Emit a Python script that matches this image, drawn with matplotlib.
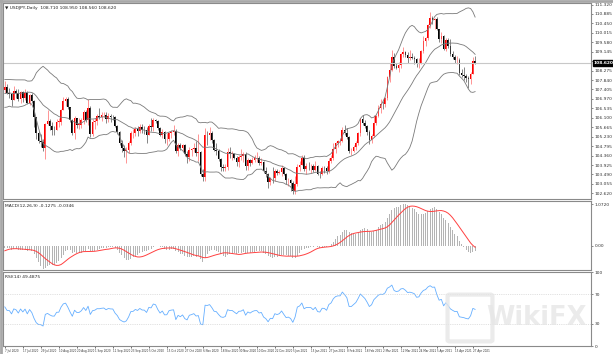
import numpy as np
import pandas as pd
import matplotlib
matplotlib.use("Agg")
import matplotlib.pyplot as plt
import matplotlib.transforms as mtransforms
from matplotlib.patches import FancyBboxPatch

# warm-up closes (22 May - 6 Jul 2020), only used to seed the indicators
warmup_close = [107.63, 107.72, 107.53, 107.72, 107.65, 107.83, 107.61, 108.67, 108.89, 109.19,
                109.61, 108.44, 107.76, 107.08, 106.85, 107.37, 107.33, 107.31, 106.99, 106.97,
                106.87, 106.90, 106.50, 107.05, 107.16, 107.22, 107.56, 107.93, 107.47, 107.50,
                107.51, 107.37]

# USDJPY daily, 7 Jul 2020 - 28 Apr 2021
close = [107.53, 107.23, 107.22, 106.92, 107.32, 107.24, 106.95, 107.28, 107.01, 107.25,
         106.79, 107.17, 106.86, 106.12, 105.38, 105.03, 104.99, 104.72, 105.83,
         105.94, 105.72, 105.56, 105.54, 105.92, 105.93, 106.48, 106.88, 106.98, 106.58,
         106.01, 105.40, 106.11, 105.79, 105.79, 105.98, 106.37, 106.01, 106.56, 105.37, 105.89,
         105.96, 106.17, 106.16, 106.22, 106.25, 106.06, 106.19, 106.15, 106.14, 105.73,
         105.45, 104.93, 104.72, 104.56, 104.64, 104.93, 105.39, 105.41, 105.58, 105.49,
         105.66, 105.53,
         105.52, 105.33, 105.72, 105.68, 106.01, 105.96, 105.61, 105.31, 105.46, 105.11,
         105.12, 105.41, 105.45, 105.47, 104.55, 104.86, 104.71, 104.84, 104.43, 104.28,
         104.61, 104.66,
         104.73, 104.50, 104.53, 103.49, 103.38, 105.33, 105.30, 105.42, 105.08, 104.62,
         104.57, 104.19, 103.84, 103.77, 103.85, 104.54, 104.44, 104.45, 104.27, 104.08, 104.30,
         104.32, 104.44, 103.88, 104.16, 104.04, 104.17, 104.24, 104.25, 104.04, 104.08,
         103.66, 103.49, 103.13, 103.35, 103.31, 103.64, 103.56, 103.62, 103.80, 103.52,
         103.22, 103.25,
         103.12, 102.71, 103.03, 103.83, 103.94, 104.25, 103.74, 103.87, 103.86, 103.86,
         103.69, 103.88, 103.53, 103.49, 103.78, 103.77, 103.63, 104.09, 104.24, 104.68,
         104.94, 105.03, 105.03, 105.54, 105.39, 105.21, 104.57, 104.57, 104.75, 104.95,
         105.39, 106.04, 105.88, 105.72, 105.44, 105.07, 105.26, 105.87, 106.19, 106.57,
         106.74, 106.72, 107.00, 107.98, 108.32, 108.92, 108.49, 108.40, 108.52, 109.04,
         109.13, 109.01, 108.84, 108.91, 108.87, 108.81, 108.58, 108.63, 109.17, 109.63,
         109.80, 110.37, 110.72,
         110.62, 110.67, 110.18, 109.75, 109.86, 109.29, 109.67, 109.40, 109.06, 108.90,
         108.76, 108.78, 108.15, 108.09, 108.04, 107.94, 107.89, 108.11, 108.71, 108.62]

high = [107.79, 107.68, 107.47, 107.26, 107.55, 107.45, 107.42, 107.34, 107.33, 107.42,
        107.33, 107.21, 107.26, 106.92, 106.15, 105.50, 105.34, 105.13, 105.88,
        106.47, 106.05, 105.90, 105.73, 106.05, 106.10, 106.52, 107.04, 107.04, 107.05,
        106.62, 106.04, 106.20, 106.10, 106.08, 106.09, 106.48, 106.47, 106.95, 106.65, 106.06,
        106.08, 106.27, 106.55, 106.37, 106.35, 106.36, 106.30, 106.27, 106.22, 106.18,
        105.78, 105.48, 105.07, 104.86, 104.77, 105.02, 105.48, 105.58, 105.69, 105.72,
        105.80, 105.80,
        105.71, 105.69, 105.80, 106.11, 106.11, 106.06, 106.00, 105.70, 105.60, 105.49,
        105.39, 105.44, 105.53, 105.75, 105.57, 104.93, 104.92, 104.91, 104.90, 104.57,
        104.74, 104.71,
        104.94, 105.03, 105.35, 104.57, 103.76, 105.65, 105.48, 105.67, 105.47, 105.13,
        104.92, 104.65, 104.26, 103.96, 103.95, 104.72, 104.76, 104.59, 104.47, 104.33, 104.40,
        104.66, 104.52, 104.52, 104.23, 104.18, 104.30, 104.37, 104.51, 104.36, 104.23,
        104.11, 103.83, 103.58, 103.38, 103.83, 103.73, 103.74, 103.70, 103.94, 103.85,
        103.56, 103.34,
        103.29, 103.18, 103.44, 103.95, 104.09, 104.38, 104.40, 104.00, 104.07, 103.99,
        103.95, 104.10, 103.94, 103.66, 103.90, 103.88, 103.87, 104.23, 104.40, 104.94,
        105.00, 105.08, 105.15, 105.67, 105.77, 105.65, 105.25, 104.70, 104.86, 105.04,
        105.45, 106.10, 106.22, 106.02, 105.79, 105.52, 105.34, 106.22, 106.23, 106.70,
        106.95, 106.89, 107.06, 108.01, 108.64, 109.23, 109.08, 108.62, 108.68, 109.10,
        109.36, 109.20, 109.14, 109.21, 109.10, 108.96, 108.86, 108.84, 109.24, 109.86,
        109.82, 110.42, 110.97,
        110.77, 110.68, 110.73, 110.19, 110.07, 109.93, 109.78, 109.77, 109.71, 109.18,
        109.01, 108.96, 108.86, 108.33, 108.46, 108.12, 108.04, 108.21, 108.88, 108.95]

low = [107.26, 107.18, 107.00, 106.64, 106.91, 107.01, 106.87, 106.80, 106.83, 106.92,
       106.74, 106.69, 106.76, 105.70, 105.14, 104.96, 104.75, 104.56, 104.19,
       105.76, 105.55, 105.29, 105.31, 105.52, 105.66, 105.78, 106.46, 106.63, 106.50,
       105.90, 105.29, 105.11, 105.63, 105.60, 105.64, 105.81, 105.89, 105.75, 105.21, 105.24,
       105.59, 105.76, 106.06, 105.94, 106.14, 105.88, 105.90, 105.90, 106.01, 105.66,
       105.36, 104.85, 104.54, 104.28, 104.00, 104.46, 104.86, 105.18, 105.28, 105.28,
       105.42, 105.42,
       105.36, 104.94, 105.29, 105.47, 105.49, 105.84, 105.54, 105.28, 105.16, 104.95,
       104.87, 105.02, 105.15, 105.31, 104.46, 104.34, 104.60, 104.58, 104.32, 104.03,
       104.13, 104.33,
       104.51, 104.36, 104.10, 103.43, 103.18, 103.19, 104.83, 105.06, 104.92, 104.55,
       104.39, 104.12, 103.67, 103.65, 103.66, 103.70, 104.25, 104.16, 104.19, 103.90, 103.83,
       104.17, 104.05, 103.69, 103.70, 103.89, 103.99, 104.05, 104.05, 103.91, 103.94,
       103.58, 103.36, 102.88, 103.00, 103.10, 103.21, 103.46, 103.50, 103.40, 103.45,
       103.05, 102.96,
       102.72, 102.60, 102.59, 102.96, 103.66, 103.91, 103.66, 103.52, 103.70, 103.58,
       103.62, 103.67, 103.47, 103.33, 103.45, 103.55, 103.53, 103.56, 104.04, 104.16,
       104.49, 104.74, 104.87, 104.97, 105.29, 105.12, 104.48, 104.41, 104.52, 104.60,
       104.83, 105.28, 105.75, 105.61, 105.33, 104.91, 104.92, 105.23, 105.77, 106.14,
       106.31, 106.50, 106.59, 106.90, 107.77, 108.28, 108.40, 108.34, 108.20, 108.40,
       108.92, 108.88, 108.62, 108.77, 108.80, 108.60, 108.42, 108.40, 108.59, 109.08,
       109.43, 109.70, 110.25,
       110.41, 110.19, 110.13, 109.60, 109.56, 109.24, 109.19, 109.32, 108.95, 108.82,
       108.61, 108.60, 108.09, 107.97, 107.84, 107.76, 107.48, 107.65, 108.10, 108.56]

tick_labels = ['7 Jul 2020', '17 Jul 2020', '29 Jul 2020', '10 Aug 2020', '20 Aug 2020',
               '1 Sep 2020', '11 Sep 2020', '23 Sep 2020', '5 Oct 2020', '15 Oct 2020',
               '27 Oct 2020', '6 Nov 2020', '18 Nov 2020', '30 Nov 2020', '10 Dec 2020',
               '22 Dec 2020', '5 Jan 2021', '15 Jan 2021', '27 Jan 2021', '8 Feb 2021',
               '18 Feb 2021', '2 Mar 2021', '12 Mar 2021', '24 Mar 2021', '5 Apr 2021',
               '15 Apr 2021', '27 Apr 2021']

# ---- indicators (computed on warm-up + visible closes) ----
n_w = len(warmup_close)
s = pd.Series(warmup_close + close)
x_all = np.arange(len(s)) - n_w

mid = s.rolling(20).mean()
sd = s.rolling(20).std(ddof=0)
upper = mid + 2 * sd
lower = mid - 2 * sd

macd = s.ewm(span=12, adjust=False).mean() - s.ewm(span=26, adjust=False).mean()
signal = macd.rolling(9).mean()

d = s.diff()
gain = d.clip(lower=0).ewm(alpha=1 / 14, adjust=False).mean()
loss = (-d.clip(upper=0)).ewm(alpha=1 / 14, adjust=False).mean()
rsi = 100 - 100 / (1 + gain / loss)

x = np.arange(len(close))
c = np.array(close)
o = np.array([warmup_close[-1]] + close[:-1])
h = np.array(high)
l = np.array(low)

# ---- layout in pixels ----
W, H = 613, 354
fig = plt.figure(figsize=(W / 100, H / 100), dpi=100)
fig.patch.set_facecolor('white')


def px_axes(x0, y0, x1, y1):
    return fig.add_axes([x0 / W, 1 - y1 / H, (x1 - x0) / W, (y1 - y0) / H])


ax1 = px_axes(3, 3, 591, 199)
ax2 = px_axes(3, 201, 591, 270)
ax3 = px_axes(3, 272, 591, 346)

xlim = (-0.8, 260.5)
tick_fs = 3.2
for ax in (ax1, ax2, ax3):
    ax.set_xlim(xlim)
    ax.yaxis.tick_right()
    ax.tick_params(axis='y', labelsize=tick_fs, length=1.5, width=0.4, pad=1, colors='#333333')
    ax.tick_params(axis='x', length=0)
    for sp in ax.spines.values():
        sp.set_color('#8a8a8a')
        sp.set_linewidth(0.8)

# ---- main price panel ----
bull = c >= o
for mask, col, wick in ((bull, '#ff0000', '#ff6a6a'), (~bull, '#000000', '#555555')):
    ax1.vlines(x[mask], l[mask], h[mask], color=wick, lw=0.5)
    body_lo = np.minimum(o, c)[mask]
    body_h = np.maximum(np.abs(c - o)[mask], 0.02)
    ax1.bar(x[mask], body_h, bottom=body_lo, width=0.75, color=col, linewidth=0)

vis = x_all >= 0
for band in (upper, mid, lower):
    ax1.plot(x_all[vis], band[vis], color='#7a7a7a', lw=0.6)

ax1.set_ylim(102.36, 111.39)
price_ticks = np.arange(102.62, 111.39, 0.435)
ax1.set_yticks(price_ticks)
ax1.set_yticklabels(['%.3f' % v for v in price_ticks])
ax1.set_xticks([])

last = c[-1]
ax1.axhline(last, color='#c8c8c8', lw=0.8)
trans = mtransforms.blended_transform_factory(ax1.transAxes, ax1.transData)
ax1.text(1.004, last, '%.3f' % last, transform=trans, fontsize=tick_fs, color='white',
         va='center', ha='left', fontweight='bold',
         bbox=dict(boxstyle='square,pad=0.15', fc='black', ec='black'))
ax1.text(0.004, 0.985, '\u25bc USDJPY,Daily  %.3f %.3f %.3f %.3f' % (o[-1], h[-1], l[-1], c[-1]),
         transform=ax1.transAxes, fontsize=3.2, va='top', ha='left', color='#222222')

# ---- MACD panel ----
mv = macd[vis].values
sv = signal[vis].values
ax2.bar(x, mv, width=0.45, color='#b4b4b4', linewidth=0)
ax2.plot(x, sv, color='#ff4040', lw=0.7)
lo, hi = np.nanmin(mv), np.nanmax(mv)
ax2.set_ylim(lo - 0.03, hi + 0.08)
ax2.set_yticks([0, hi])
ax2.set_yticklabels(['0.00', '%.4f' % hi])
ax2.set_xticks([])
ax2.text(0.004, 0.96, 'MACD(12,26,9) %.4f %.4f' % (mv[-1], sv[-1]),
         transform=ax2.transAxes, fontsize=3.2, va='top', ha='left', color='#222222')

# ---- RSI panel ----
rv = rsi[vis].values
ax3.plot(x, rv, color='#3f9bff', lw=0.6, alpha=0.8)
ax3.set_ylim(0, 100)
for lvl in (70, 30):
    ax3.axhline(lvl, color='#c8c8c8', lw=0.4, ls=(0, (2, 2)))
ax3.set_yticks([0, 30, 70, 100])
ax3.set_yticklabels(['0', '30', '70', '100'])
ax3.set_xticks(x[::8][:len(tick_labels)])
ax3.set_xticklabels(tick_labels, fontsize=2.0, ha='left', color='#333333',
                    family=['Liberation Sans Narrow', 'DejaVu Sans'])
ax3.tick_params(axis='x', length=1.5, width=0.4, pad=1)
ax3.text(0.004, 0.96, 'RSI(14) %.4f' % rv[-1], transform=ax3.transAxes,
         fontsize=3.2, va='top', ha='left', color='#222222')

# watermark (logo box + text)
logo = FancyBboxPatch((450 / W, 1 - 340 / H), 40 / W, 44 / H,
                      boxstyle='round,pad=0.004', transform=fig.transFigure,
                      fc='none', ec='#e6e6e6', lw=3, alpha=0.8, zorder=10)
fig.add_artist(logo)
fig.text(536 / W, 1 - 318 / H, 'WikiFX', fontsize=18.5, fontweight='bold', color='#e6e6e6',
         alpha=0.8, ha='center', va='center', zorder=10)

# window frame
fig.add_artist(plt.Line2D([0, 1], [1 - 1 / H, 1 - 1 / H], color='#a8a8a8', lw=2,
                          transform=fig.transFigure))
fig.add_artist(plt.Line2D([1 / W, 1 / W], [0, 1], color='#a8a8a8', lw=2,
                          transform=fig.transFigure))

fig.savefig('out.png', dpi=100)
